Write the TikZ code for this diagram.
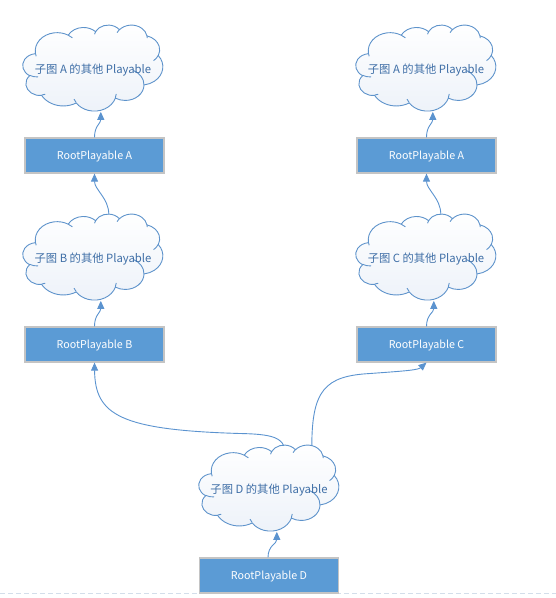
\documentclass[tikz,border=0pt]{standalone}
\usepackage{fontspec}
\setmainfont{Noto Sans CJK SC}
\usetikzlibrary{arrows.meta,calc}
\pgfdeclarelayer{background}
\pgfsetlayers{background,main}
\definecolor{boxblue}{HTML}{5B9BD5}
\definecolor{boxedge}{HTML}{C4C4C4}
\definecolor{cloudedge}{HTML}{5E93CB}
\definecolor{cloudtext}{HTML}{3E6EA6}
\definecolor{cloudfill}{HTML}{EDF2F9}
\definecolor{linkblue}{HTML}{5B93CF}
\definecolor{pageline}{HTML}{D3DEEA}
\makeatletter
% #1 name, #2 x radius, #3 y radius, #4 start angle (visual), #5 sweep (visual)
\newcommand\defooarc[5]{%
  \pgfmathsetmacro\oo@s{atan2(#2*sin(#4),#3*cos(#4))}%
  \pgfmathsetmacro\oo@e{atan2(#2*sin(#4+#5),#3*cos(#4+#5))}%
  \pgfmathsetmacro\oo@d{mod(\oo@e-\oo@s+720,360)}%
  \expandafter\xdef\csname ooarc#1\endcsname{arc[x radius=#2,y radius=#3,start angle=\oo@s,delta angle=\oo@d]}%
}
\makeatother
\defooarc{A}{67.53}{91.90}{-190.48748}{123.78053}
\defooarc{B}{53.33}{72.67}{-144.10238}{89.94523}
\defooarc{C}{43.65}{59.45}{-145.80792}{99.72302}
\defooarc{D}{48.57}{65.95}{-130.98607}{117.24173}
\defooarc{E}{53.33}{72.73}{-78.70888}{109.02692}
\defooarc{F}{67.75}{92.20}{-46.26725}{130.269}
\defooarc{G}{57.85}{78.67}{0.62502}{114.03333}
\defooarc{H}{67.52}{92.15}{22.4516}{115.17255}
\defooarc{I}{77.20}{105.43}{66.24263}{75.71102}
\defooarc{J}{43.60}{59.18}{-274.94208}{146.73557}
\defooarc{K}{43.45}{59.45}{-246.8285}{152.51885}
\defooarc{a}{43.45}{59.45}{86.742}{26.4295}
\defooarc{b}{43.60}{59.18}{73.6105}{11.4475}
\defooarc{c}{67.52}{92.15}{137.6242}{14.0811}
\defooarc{d}{67.52}{92.15}{6.4533}{15.9984}
\defooarc{e}{57.85}{78.67}{-70.2924}{70.9174}
\defooarc{f}{53.33}{72.73}{30.3180}{27.7515}
\defooarc{g}{48.57}{65.95}{-13.7443}{14.8589}
\defooarc{h}{48.57}{65.95}{-149.1815}{18.1954}
\defooarc{i}{43.65}{59.45}{-163.4943}{17.6864}
\defooarc{j}{67.53}{91.90}{-66.7070}{12.3194}
\defooarc{k}{67.53}{91.90}{157.6544}{11.8582}
\tikzset{
  rootbox/.style={draw=boxedge, line width=1.2pt, fill=boxblue, text=white,
    minimum width=139pt, minimum height=35pt, inner sep=0pt,
    text height=7.5pt, text depth=0pt, font=\fontsize{10.7}{12}\selectfont},
  subcloud/.style={rectangle, minimum width=140pt, minimum height=86pt, inner sep=0pt,
    text height=10.8pt, text depth=0pt, text=cloudtext, font=\fontsize{11.3}{13}\selectfont},
  link/.style={draw=linkblue, line width=0.9pt, -{Triangle[length=8pt,width=7pt]}},
  cloudline/.style={draw=cloudedge, line width=0.9pt, line join=round},
  officecloud/.pic={
    \begin{scope}[xscale=140/432, yscale=86/432]
      \path[cloudline, top color=white, bottom color=cloudfill]
        (39,143.7) \ooarcA \ooarcB \ooarcC \ooarcD \ooarcE \ooarcF \ooarcG \ooarcH \ooarcI \ooarcJ \ooarcK -- cycle;
      \draw[cloudline]
        (46.93,261.77) \ooarca (69.28,348.99) \ooarcb (164.78,390.90) \ooarcc
        (288.27,347.51) \ooarcd (341.29,229.54) \ooarce (417.98,153.54) \ooarcf
        (383.24,54.26) \ooarcg (290.78,39.52) \ooarch (221.41,47.20) \ooarci
        (140.00,51.92) \ooarcj (41.27,157.89) \ooarck;
    \end{scope}
  }
}
\begin{document}
\begin{tikzpicture}[x=1pt,y=-1pt]
\useasboundingbox (0,0) rectangle (556,598);
\draw[pageline, line width=1pt, dash pattern=on 5pt off 3pt] (0,593.5) -- (556,593.5);
% nodes
\node[subcloud] (cA1) at (93,68) {子图 A 的其他 Playable};
\node[rootbox] (bA1) at (94.5,155.5) {RootPlayable A};
\node[subcloud] (cB) at (93,257) {子图 B 的其他 Playable};
\node[rootbox] (bB) at (94.5,344.5) {RootPlayable B};
\node[subcloud] (cA2) at (426,68) {子图 A 的其他 Playable};
\node[rootbox] (bA2) at (426.5,155.5) {RootPlayable A};
\node[subcloud] (cC) at (426,257) {子图 C 的其他 Playable};
\node[rootbox] (bC) at (426.5,344.5) {RootPlayable C};
\node[subcloud] (cD) at (269,488) {子图 D 的其他 Playable};
\node[rootbox] (bD) at (269,575.5) {RootPlayable D};
\begin{pgfonlayer}{background}
  \foreach \c in {cA1,cB,cA2,cC,cD}{\pic at (\c.north west) {officecloud};}
\end{pgfonlayer}
% links
\draw[link] (bA1.north) .. controls +(0,-12) and +(0,12) .. ($(cA1.north west)+(78,87)$);
\draw[link] ($(cB.north west)+(86,0.5)$) .. controls +(0,-16) and +(0,16) .. (bA1.south);
\draw[link] (bB.north) .. controls +(0,-12) and +(0,12) .. ($(cB.north west)+(78,87)$);
\draw[link] (bA2.north) .. controls +(0,-12) and +(0,12) .. ($(cA2.north west)+(77,87)$);
\draw[link] ($(cC.north west)+(85,0.5)$) .. controls +(0,-16) and +(0,16) .. (bA2.south);
\draw[link] (bC.north) .. controls +(0,-12) and +(0,12) .. ($(cC.north west)+(78,87)$);
\draw[link] ($(cD.north west)+(85,1)$) .. controls (280,436) and (265,434) .. (240,433.5)
  .. controls (120,430) and (95,415) .. (bB.south);
\draw[link] ($(cD.north west)+(113,1)$) .. controls (312,390) and (325,376) .. (370,373.5)
  .. controls (405,371) and (418,370) .. (bC.south);
\draw[link] ([xshift=-1pt]bD.north) .. controls +(0,-12) and +(0,12) .. ($(cD.north west)+(78,87)$);
\end{tikzpicture}
\end{document}
